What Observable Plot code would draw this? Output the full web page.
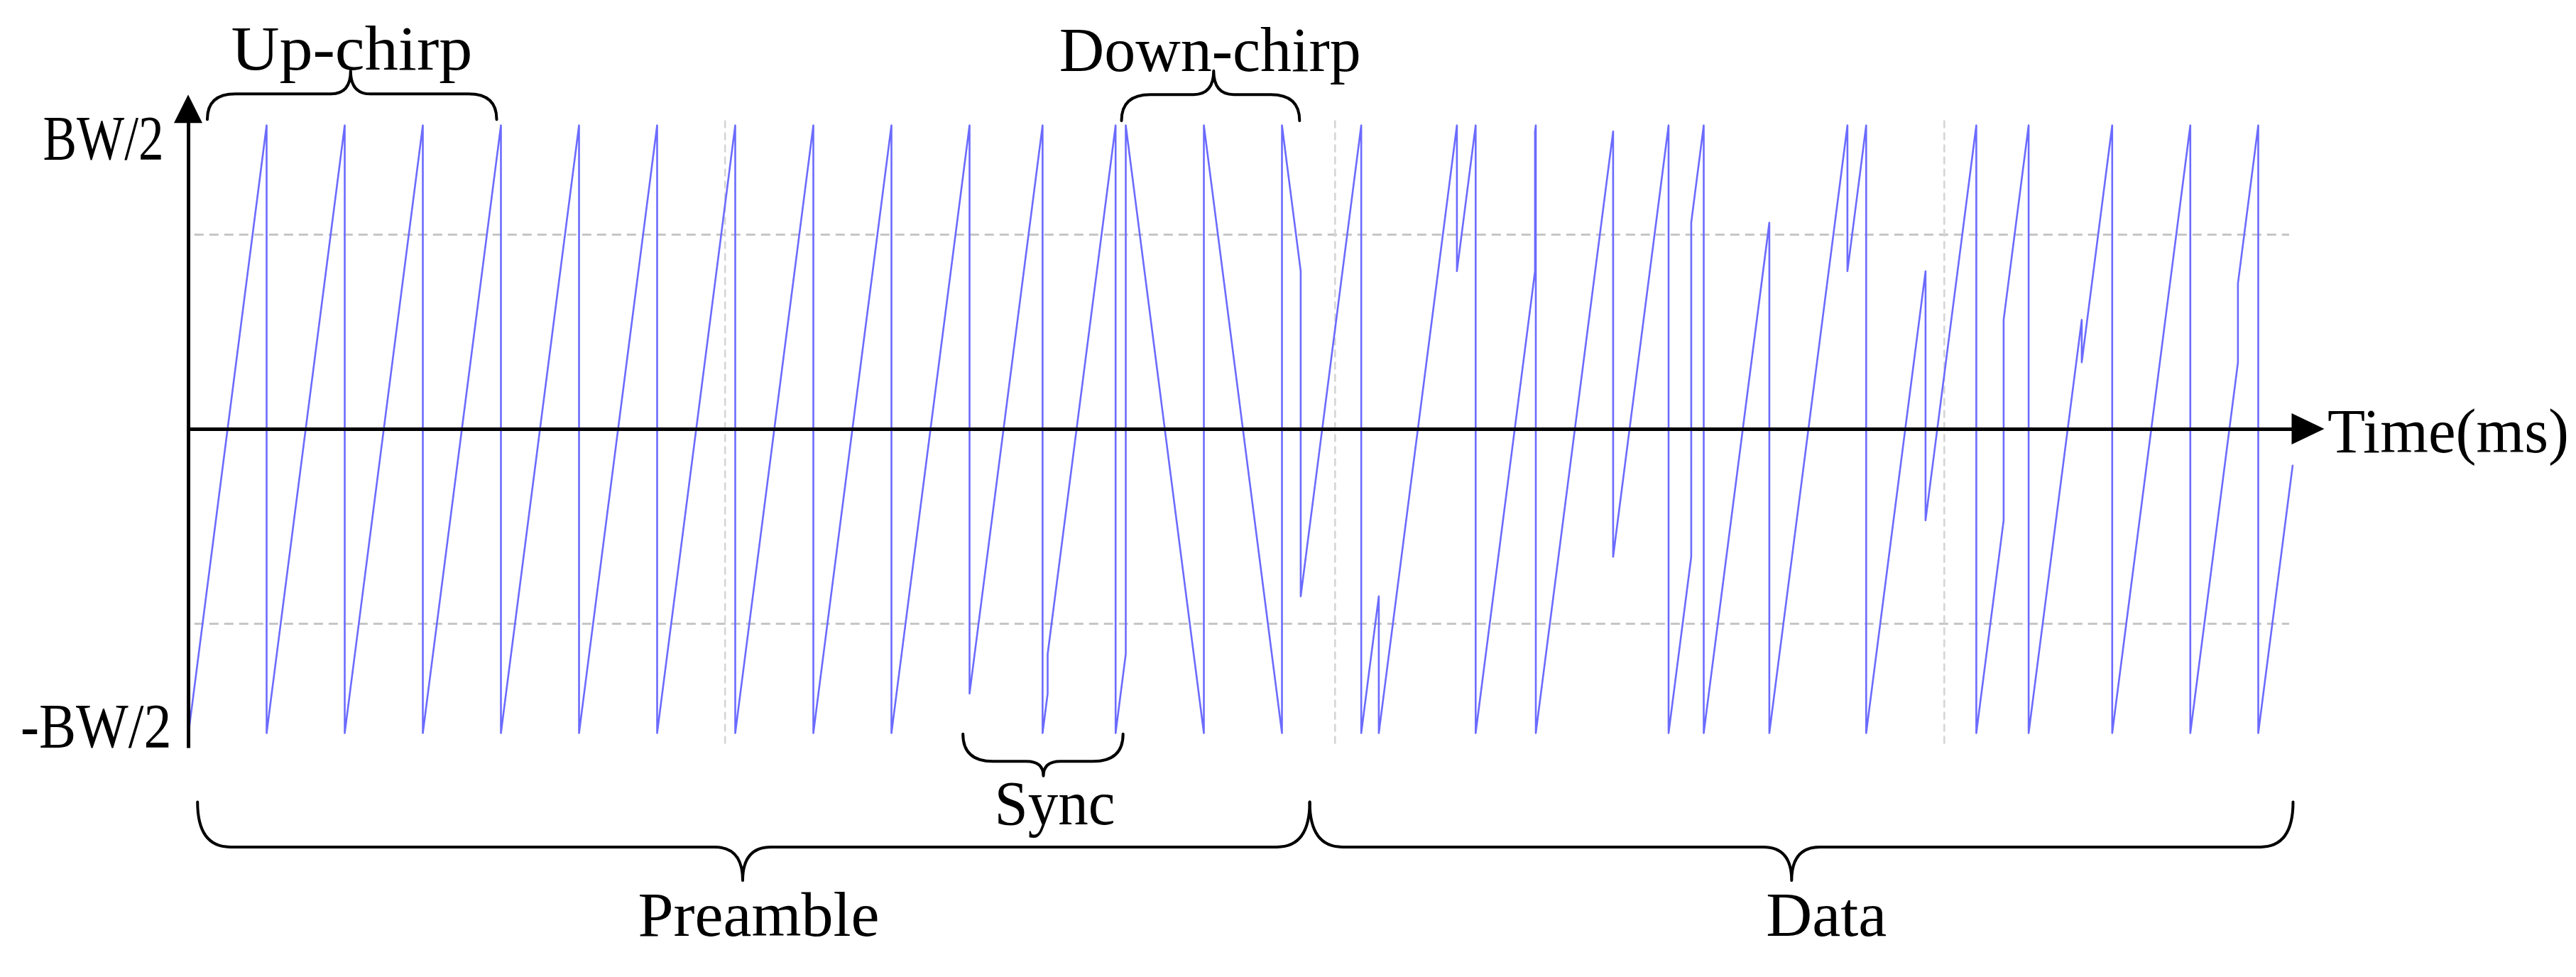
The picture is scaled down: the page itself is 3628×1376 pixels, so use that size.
<!DOCTYPE html>
<html>
<head>
<meta charset="utf-8">
<script src="https://cdn.jsdelivr.net/npm/d3@7"></script>
<script src="https://cdn.jsdelivr.net/npm/@observablehq/plot@0.6"></script>
<style>
  html, body { margin: 0; padding: 0; background: #fff; }
  #chart svg { display: block; }
</style>
</head>
<body>
<div id="chart"></div>
<script>
// ---------------- DATA (time in symbol periods T, frequency in units of BW) ----------------
// Symbol segments of the LoRa frame: 10 preamble up-chirps, 2 sync symbols,
// 2.25 down-chirps, then data symbols (up-chirps with shifted start frequency).
const symStart = [0, 1, 2, 3, 4, 5, 6, 7, 8, 9,
                  10, 11,
                  12, 13, 14,
                  14.24, 15.24, 16.24, 17.24, 18.24, 19.24, 20.24, 21.24, 22.24, 23.24, 24.24, 25.24, 26.24];
const frameEnd = 26.94;
const symDir = ["up","up","up","up","up","up","up","up","up","up",
                "up","up",
                "down","down","down",
                "up","up","up","up","up","up","up","up","up","up","up","up","up"];
const symFreq = [-0.5, -0.5, -0.5, -0.5, -0.5, -0.5, -0.5, -0.5, -0.5, -0.5,
                 -0.435, -0.37,
                 0.5, 0.5, 0.5,
                 -0.275, -0.5, 0.26, 0.49, -0.21, 0.34, -0.5, 0.26, -0.15, 0.18, 0.11, 0.11, 0.24];
const initialFreq = 0.5;

// dashed grid lines
const gridX = [6.87, 14.68, 22.48];
const gridY = [-0.32, 0.32];
const gridTRange = [0.08, 26.9];
const gridFRange = [-0.518, 0.509];

// axes (arrow tips)
const xAxisEnd = 27.35;
const yAxisTop = 0.55;
const yAxisBottom = -0.525;

// axis end labels
const yLabels = ["BW/2", "-BW/2"];
const yLabelAt = [0.5, -0.5];
const xLabel = "Time(ms)";

// braces
const braceName = ["Up-chirp", "Down-chirp", "Sync", "Preamble", "Data"];
const braceFrom = [0.245, 11.95, 9.92, 0.12, 14.36];
const braceTo   = [3.95, 14.23, 11.97, 14.36, 26.95];
const braceTip  = [2.08, 13.13, 10.95, 7.1, 20.53];
const braceEndF = [0.509, 0.507, -0.502, -0.614, -0.614];
const braceMidF = [0.551, 0.550, -0.547, -0.688, -0.688];
const braceTipF = [0.589, 0.589, -0.571, -0.743, -0.743];
const labelT = [2.09, 13.08, 11.09, 7.3, 20.97];
const labelF = [0.592, 0.589, -0.650, -0.834, -0.834];

// ---------------- build chirp polyline from the symbol table ----------------
const symEnd = symStart.map((s, i) => i < symStart.length - 1 ? symStart[i + 1] : frameEnd);
const vertices = [{t: 0, f: initialFreq}];
symStart.forEach((ts, i) => {
  const te = symEnd[i], f0 = symFreq[i], span = te - ts;
  vertices.push({t: ts, f: f0});
  if (symDir[i] === "up") {
    if (f0 + span > 0.5 + 1e-9) {
      const tw = ts + (0.5 - f0);
      vertices.push({t: tw, f: 0.5}, {t: tw, f: -0.5}, {t: te, f: -0.5 + (te - tw)});
    } else vertices.push({t: te, f: f0 + span});
  } else {
    if (f0 - span < -0.5 - 1e-9) {
      const tw = ts + (f0 + 0.5);
      vertices.push({t: tw, f: -0.5}, {t: tw, f: 0.5}, {t: te, f: 0.5 - (te - tw)});
    } else vertices.push({t: te, f: f0 - span});
  }
});

const braces = braceName.map((name, i) => ({name, i}));
const labels = braceName.map((s, i) => ({s, t: labelT[i], f: labelF[i]}));

// ---------------- render helpers ----------------
const ns = "http://www.w3.org/2000/svg";
function annotations(index, scales) {
  const {x, y} = scales;
  const g = document.createElementNS(ns, "g");
  const add = (d, attrs) => {
    const p = document.createElementNS(ns, "path");
    p.setAttribute("d", d);
    for (const k in attrs) p.setAttribute(k, attrs[k]);
    g.appendChild(p);
  };
  // arrowheads
  const ax = x(0), ayTip = y(yAxisTop);
  add(`M${ax},${ayTip} L${ax - 20},${ayTip + 40} L${ax + 20},${ayTip + 40} Z`, {fill: "black"});
  const xTip = x(xAxisEnd), ay0 = y(0);
  add(`M${xTip},${ay0} L${xTip - 46},${ay0 - 22} L${xTip - 46},${ay0 + 22} Z`, {fill: "black"});
  // braces
  braces.forEach(({i}) => {
    const x0 = x(braceFrom[i]), x1 = x(braceTo[i]), xt = x(braceTip[i]);
    const yE = y(braceEndF[i]), yH = y(braceMidF[i]), yT = y(braceTipF[i]);
    const ry = Math.abs(yH - yE);
    const rx = Math.min(46, ry * 1.1);
    const w = Math.max(24, 0.85 * Math.abs(yT - yH));
    const d = `M${x0},${yE} Q${x0},${yH} ${x0 + rx},${yH} L${xt - w},${yH} Q${xt},${yH} ${xt},${yT} ` +
              `Q${xt},${yH} ${xt + w},${yH} L${x1 - rx},${yH} Q${x1},${yH} ${x1},${yE}`;
    add(d, {fill: "none", stroke: "black", "stroke-width": 4, "stroke-linecap": "round", "stroke-linejoin": "round"});
  });
  return g;
}

const font = "'Liberation Serif', 'DejaVu Serif', serif";
const fs = 88;
const charAdvance = 42.5;

const chart = Plot.plot({
  width: 3628,
  height: 1376,
  marginLeft: 265,
  marginRight: 63,
  marginTop: 176,
  marginBottom: 344,
  style: {background: "white", fontFamily: font},
  x: {domain: [0, 30], axis: null},
  y: {domain: [-0.5, 0.5], axis: null},
  marks: [
    Plot.ruleY(gridY, {x1: gridTRange[0], x2: gridTRange[1], stroke: "#c6c6c6", strokeWidth: 3, strokeDasharray: "13,8"}),
    Plot.ruleX(gridX, {y1: gridFRange[0], y2: gridFRange[1], stroke: "#d4d4d4", strokeWidth: 2.5, strokeDasharray: "11,6"}),
    Plot.line(vertices, {x: "t", y: "f", stroke: "#6b6bff", strokeWidth: 2.6, curve: "linear"}),
    Plot.ruleY([0], {x1: 0, x2: xAxisEnd - 0.35, stroke: "black", strokeWidth: 5}),
    Plot.ruleX([0], {y1: yAxisBottom, y2: yAxisTop - 0.04, stroke: "black", strokeWidth: 5}),
    annotations,
    Plot.text([0], {x: 0, y: yLabelAt[0], text: () => yLabels[0], textAnchor: "end", lineAnchor: "bottom", dx: -35, dy: 47, fontSize: fs, fontFamily: font, fill: "black"}),
    Plot.text([0], {x: 0, y: yLabelAt[1], text: () => yLabels[1], textAnchor: "end", lineAnchor: "bottom", dx: -24, dy: 19, fontSize: fs, fontFamily: font, fill: "black"}),
    Plot.text([0], {x: xAxisEnd, y: 0, text: () => xLabel, textAnchor: "start", lineAnchor: "middle", dx: 4, dy: 4, fontSize: fs, fontFamily: font, fill: "black"}),
    Plot.text(labels, {x: "t", y: "f", text: "s", textAnchor: "middle", lineAnchor: "bottom", fontSize: fs, fontFamily: font, fill: "black"})
  ]
});

// monospace-like advance (condensed serif lettering as in the reference)
chart.querySelectorAll("text").forEach(el => {
  const n = el.textContent.length;
  el.setAttribute("textLength", n * charAdvance);
  el.setAttribute("lengthAdjust", "spacingAndGlyphs");
});

document.getElementById("chart").appendChild(chart);
</script>
</body>
</html>
